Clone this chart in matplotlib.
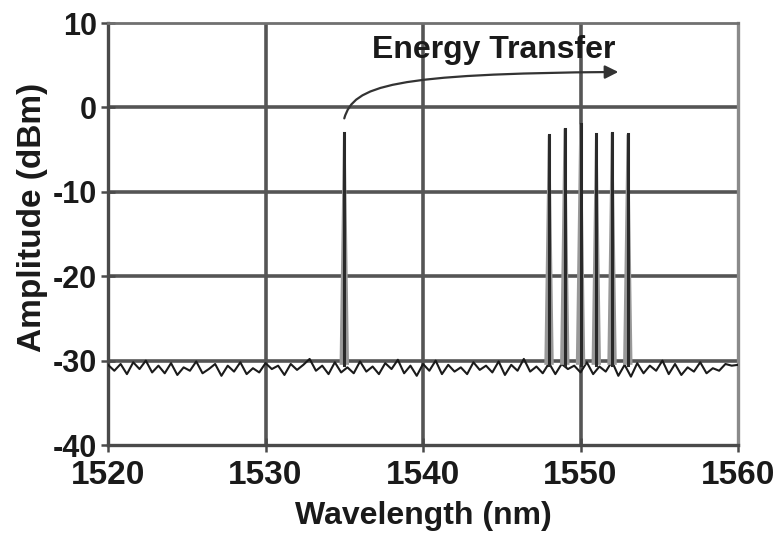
import numpy as np
import matplotlib
matplotlib.use("Agg")
import matplotlib.pyplot as plt
from matplotlib.path import Path
from matplotlib.patches import FancyArrowPatch

plt.rcParams['font.family'] = ['Liberation Sans', 'DejaVu Sans']
plt.rcParams['axes.unicode_minus'] = False

# ---- data ----
x_ticks = [1520, 1530, 1540, 1550, 1560]
y_ticks = [-40, -30, -20, -10, 0, 10]

noise_wl = np.linspace(1520, 1560, 101)
noise_dbm = [
    -30.5, -31.2, -30.4, -31.6, -30.2, -31.0, -30.0, -31.4, -30.6, -31.5,
    -30.3, -31.7, -30.8, -31.2, -30.1, -31.5, -31.0, -30.4, -31.8, -30.6,
    -31.3, -30.2, -31.6, -30.9, -31.4, -30.3, -31.0, -30.6, -31.7, -30.4,
    -31.1, -30.5, -29.8, -31.2, -30.6, -31.6, -30.2, -31.4, -30.8, -31.5,
    -30.1, -31.3, -30.7, -31.6, -30.3, -31.0, -29.9, -31.5, -30.6, -31.8,
    -30.4, -31.2, -30.0, -31.6, -30.5, -31.3, -30.8, -31.6, -30.2, -31.1,
    -30.6, -31.4, -30.1, -31.7, -30.5, -31.2, -29.8, -31.3, -30.7, -31.5,
    -30.3, -31.6, -30.4, -31.0, -30.6, -31.4, -30.2, -31.6, -30.7, -31.3,
    -30.1, -31.8, -30.5, -31.9, -30.3, -31.5, -30.6, -31.2, -30.0, -31.6,
    -30.4, -31.7, -30.8, -31.3, -30.2, -31.5, -30.9, -31.2, -30.4, -30.6,
    -30.5,
]

peak_wl = [1535, 1548, 1549, 1550, 1551, 1552, 1553]
peak_dbm = [-3.0, -3.3, -2.5, -2.0, -3.2, -3.0, -3.2]
peak_base = -30.5
peak_halfwidth = 0.3

annot_text = "Energy Transfer"

REG = ['Liberation Sans', 'DejaVu Sans']

# ---- figure ----
fig = plt.figure(figsize=(7.8, 5.35), dpi=100)
ax = fig.add_axes([0.1385, 0.1682, 0.8077, 0.7888])
ax.set_xlim(1520, 1560)
ax.set_ylim(-40, 10)

grid_c = '#555555'
for xv in x_ticks[1:-1]:
    ax.axvline(xv, color=grid_c, lw=2.6, zorder=1)
for yv in y_ticks[1:-1]:
    ax.axhline(yv, color=grid_c, lw=2.6, zorder=1)

# noise floor
ax.plot(noise_wl, noise_dbm, color='#1a1a1a', lw=1.5, zorder=3)

# peaks
for wl, h in zip(peak_wl, peak_dbm):
    ax.fill([wl - peak_halfwidth, wl - 0.08, wl + 0.08, wl + peak_halfwidth],
            [peak_base, h, h, peak_base], color='#999999', lw=0, zorder=4)
    ax.plot([wl, wl], [peak_base, h], color='#2a2a2a', lw=2.2, zorder=5)

# annotation
ax.text(1544.5, 5.9, annot_text, fontsize=23, fontweight='bold', family=REG,
        ha='center', va='baseline', color='#1a1a1a', zorder=6)
verts = [(1535.0, -1.3), (1535.6, 2.6), (1538.0, 4.0), (1552.4, 4.2)]
codes = [Path.MOVETO, Path.CURVE4, Path.CURVE4, Path.CURVE4]
arr = FancyArrowPatch(path=Path(verts, codes), arrowstyle='-|>,head_length=8,head_width=4',
                      color='#333333', lw=1.6, zorder=6)
ax.add_patch(arr)

# spines
for s in ['left', 'bottom']:
    ax.spines[s].set_color('#4a4a4a')
    ax.spines[s].set_linewidth(2.4)
ax.spines['top'].set_color('#707070')
ax.spines['top'].set_linewidth(2.0)
ax.spines['right'].set_color('#8a8a8a')
ax.spines['right'].set_linewidth(2.4)

ax.set_xticks(x_ticks)
ax.set_yticks(y_ticks)
ax.tick_params(axis='both', direction='inout', length=10, width=1.8,
               color='#4a4a4a', pad=3)
ax.tick_params(axis='x', pad=6)
for lab in ax.get_xticklabels():
    lab.set_fontweight('bold')
    lab.set_family(REG)
    lab.set_fontsize(24)
    lab.set_color('#1a1a1a')
for lab in ax.get_yticklabels():
    lab.set_fontweight('bold')
    lab.set_family(REG)
    lab.set_fontsize(22)
    lab.set_color('#1a1a1a')

ax.set_xlabel('Wavelength (nm)', fontsize=23, fontweight='bold', family=REG,
              color='#1a1a1a', va='top', ha='center')
ax.xaxis.set_label_coords(0.5, -0.132)
ax.set_ylabel('Amplitude (dBm)', fontsize=24, fontweight='bold', family=REG,
              color='#1a1a1a')
ax.yaxis.set_label_coords(-0.095, 0.54)

fig.savefig('out.png', dpi=100)
